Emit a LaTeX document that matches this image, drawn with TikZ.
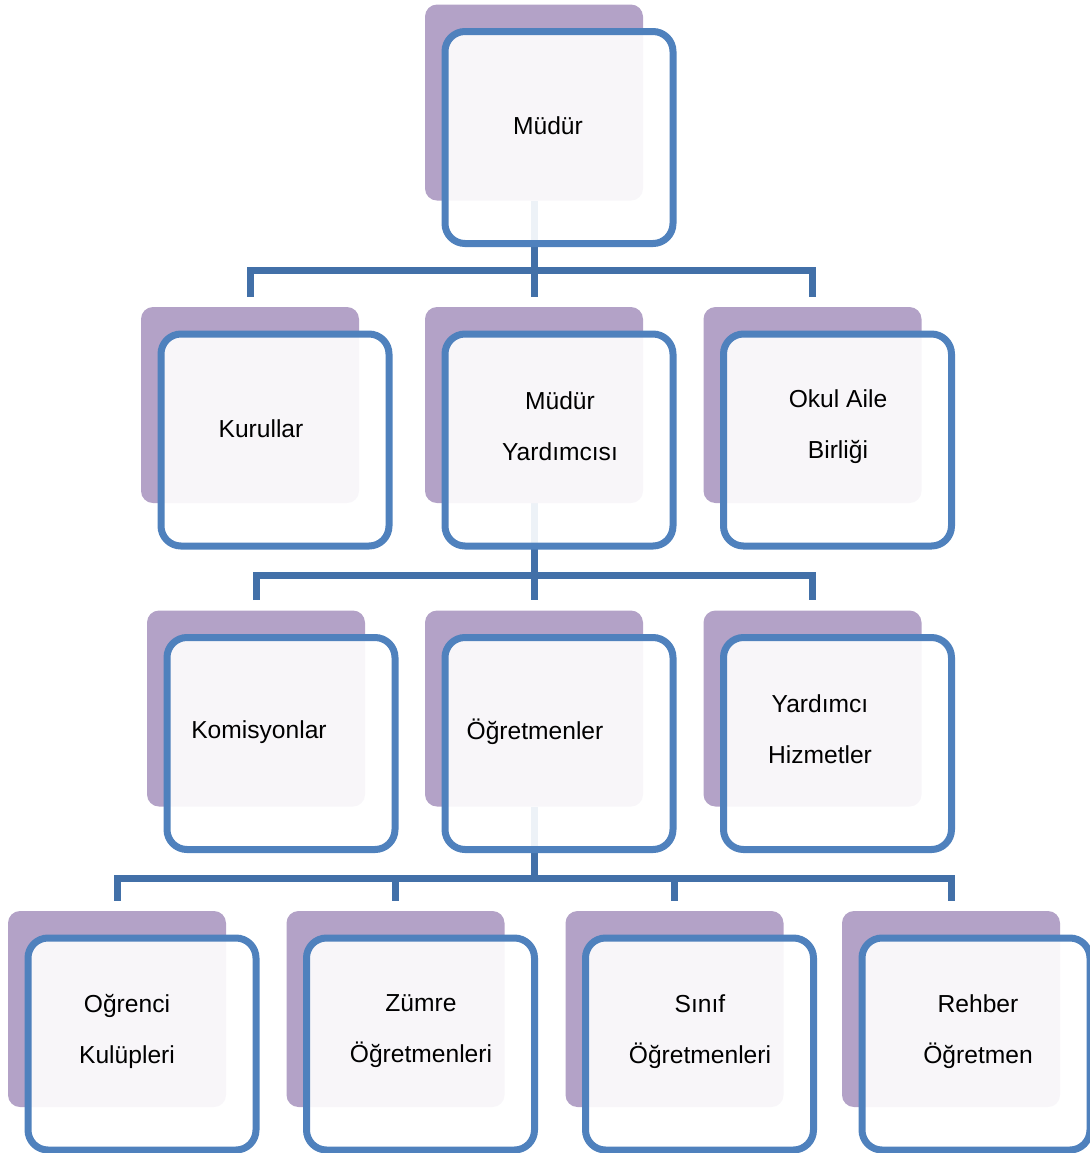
\documentclass[tikz,border=0pt]{standalone}
\usepackage{fontspec}
\setmainfont{Liberation Sans}
\usetikzlibrary{calc, backgrounds}
\definecolor{shadepurple}{RGB}{179, 162, 199}
\definecolor{boxblue}{RGB}{79, 129, 189}
\definecolor{linkblue}{RGB}{66, 112, 168}

\tikzset{
    backbox/.style={fill=shadepurple, rounded corners=6pt, minimum width=109pt, minimum height=98pt, inner sep=0pt},
    frontbox/.style={draw=boxblue, line width=3.5pt, fill=white, fill opacity=0.91, rounded corners=10pt, minimum width=114pt, minimum height=106pt, inner sep=0pt},
    boxtext/.style={align=center, font=\fontsize{12.3}{25.5}\selectfont},
    link/.style={draw=linkblue, line width=3.5pt}
}

\newcommand{\orgunit}[4]{%
    \node[backbox] (#1-bg) at ($(#2)+(-25,-35)$) {};
    \node[frontbox] (#1) at (#2) {};
    \node[boxtext] (#1-txt) at (#3) {#4};
}

\begin{document}
\begin{tikzpicture}[x=0.5pt, y=-0.5pt]
        \useasboundingbox (0,0) rectangle (1089,1153);

        \orgunit{mudur}{559,137.5}{548,126}{Müdür}

        \orgunit{kurullar}{275,440}{261,429}{Kurullar}
        \orgunit{mudury}{559,440}{560,426.5}{Müdür\\Yardımcısı}
        \orgunit{okulaile}{837.5,440}{838,426.5}{Okul Aile\\Birliği}

        \orgunit{komisyon}{281,743.5}{259,732}{Komisyonlar}
        \orgunit{ogretmen}{559,743.5}{535,732}{Öğretmenler}
        \orgunit{hizmet}{837.5,743.5}{820,729.5}{Yardımcı\\Hizmetler}

        \orgunit{kulup}{142,1044}{127,1031.5}{Oğrenci\\Kulüpleri}
        \orgunit{zumre}{420.5,1044}{421,1031.5}{Zümre\\Öğretmenleri}
        \orgunit{sinif}{699.5,1044}{700,1031.5}{Sınıf\\Öğretmenleri}
        \orgunit{rehber}{976,1044}{978,1031.5}{Rehber\\Öğretmen}

        \begin{scope}[on background layer]
            \coordinate (bus1) at (534,270);
            \coordinate (bus2) at (534,575);
            \coordinate (bus3) at (534,878);

            \draw[link, shorten <=5pt, shorten >=5pt] (kurullar-bg.north) |- (bus1) -| (okulaile-bg.north);
            \draw[link, shorten >=5pt] (mudur-bg.south) -- (mudury-bg.north);

            \draw[link, shorten <=5pt, shorten >=5pt] (komisyon-bg.north) |- (bus2) -| (hizmet-bg.north);
            \draw[link, shorten >=5pt] (mudury-bg.south) -- (ogretmen-bg.north);

            \draw[link, shorten <=5pt, shorten >=5pt] (kulup-bg.north) |- (bus3) -| (rehber-bg.north);
            \draw[link] (ogretmen-bg.south) -- (bus3);
            \draw[link, shorten >=5pt] (zumre-bg.north |- bus3) -- (zumre-bg.north);
            \draw[link, shorten >=5pt] (sinif-bg.north |- bus3) -- (sinif-bg.north);
        \end{scope}
    \end{tikzpicture}
\end{document}
